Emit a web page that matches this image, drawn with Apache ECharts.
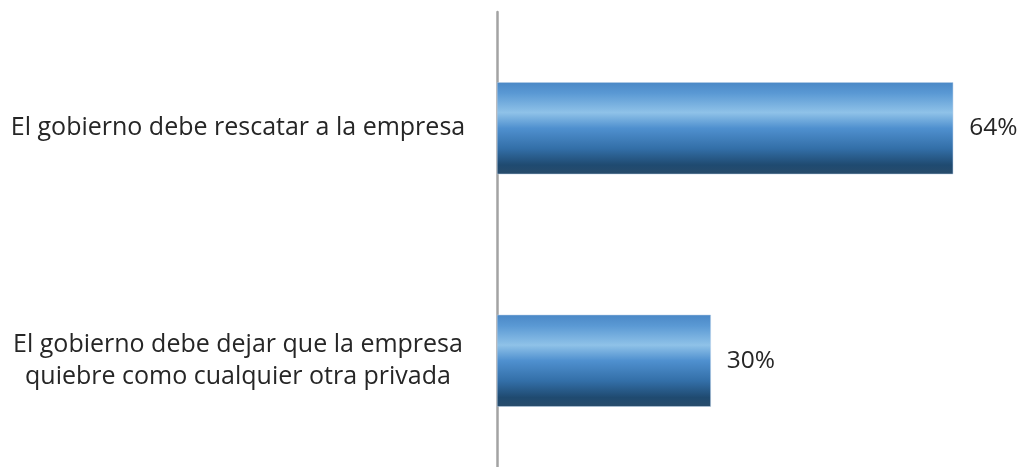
<!DOCTYPE html>
<html>
<head>
<meta charset="utf-8">
<script src="https://cdn.jsdelivr.net/npm/echarts@6/dist/echarts.min.js"></script>
<style>html,body{margin:0;padding:0;background:#fff;}#c{width:1023px;height:467px;}</style>
</head>
<body>
<div id="c"></div>
<script>
var categories = ['El gobierno debe rescatar a la empresa', 'El gobierno debe dejar que la empresa\nquiebre como cualquier otra privada'];
var values = [64, 30];

var chart = echarts.init(document.getElementById('c'));
var grad = new echarts.graphic.LinearGradient(0, 0, 0, 1, [
  {offset: 0, color: '#4a88c6'},
  {offset: 0.12, color: '#5a99d4'},
  {offset: 0.33, color: '#8fc2e8'},
  {offset: 0.5, color: '#4f90cf'},
  {offset: 0.72, color: '#336fa8'},
  {offset: 0.9, color: '#1f4a70'},
  {offset: 1, color: '#284c6b'}
]);
chart.setOption({
  animation: false,
  grid: {left: 497, top: 12, bottom: -10, right: 27, outerBoundsMode: 'none', containLabel: false},
  xAxis: {type: 'value', min: 0, max: 70, show: false},
  yAxis: {
    type: 'category', data: categories, inverse: true,
    axisLine: {show: true, lineStyle: {color: '#a3a3a3', width: 2.5}},
    axisTick: {show: false},
    axisLabel: {align: 'center', margin: 259, fontFamily: 'Open Sans', fontSize: 25, color: '#262626', lineHeight: 32}
  },
  series: [{
    type: 'bar', data: values, barWidth: 92,
    itemStyle: {color: grad, borderColor: '#b8cfe6', borderWidth: 0.5},
    label: {show: true, position: 'right', distance: 16, formatter: '{c}%', fontFamily: 'Open Sans', fontSize: 24.5, color: '#262626'}
  }]
});
</script>
</body>
</html>
